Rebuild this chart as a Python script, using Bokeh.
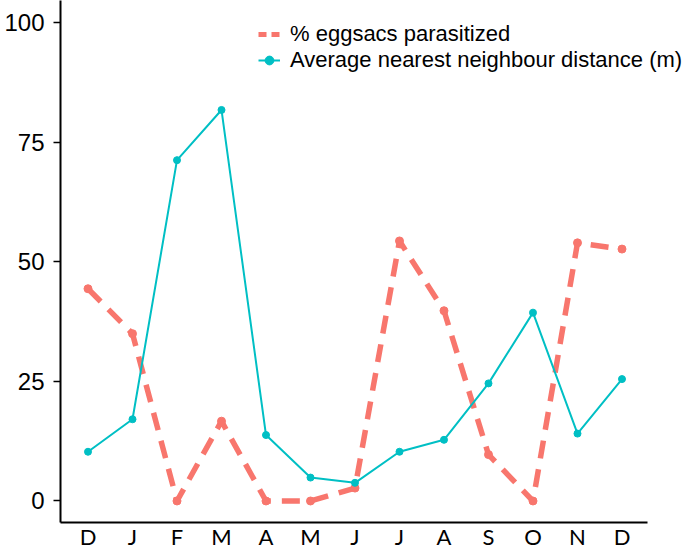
from bokeh.plotting import figure
from bokeh.models import FixedTicker, Legend, LegendItem, ColumnDataSource, Range1d
from bokeh.embed import file_html
from bokeh.resources import INLINE

# ---- data ----
months = ["D", "J", "F", "M", "A", "M", "J", "J", "A", "S", "O", "N", "D"]
parasitized = [44.4, 35.0, 0.0, 16.7, 0.0, 0.0, 2.7, 54.4, 39.8, 9.7, 0.0, 54.0, 52.7]
distance = [10.3, 17.1, 71.3, 81.8, 13.8, 4.9, 3.8, 10.3, 12.8, 24.6, 39.4, 14.1, 25.5]
y_ticks = [0, 25, 50, 75, 100]
legend_labels = ["% eggsacs parasitized", "Average nearest neighbour distance (m)"]

RED = "#F8766D"
CYAN = "#00BFC4"

xpos = list(range(len(months)))
src = ColumnDataSource(dict(x=xpos, par=parasitized, dist=distance))

X_START, X_AXIS_END = -0.618, 12.573

p = figure(width=685, height=552, output_backend="svg", toolbar_location=None,
           x_range=Range1d(X_START, 13.427), y_range=Range1d(-4.5, 104.7),
           min_border_left=60, min_border_right=0, min_border_top=0,
           min_border_bottom=28)
p.outline_line_color = None
p.grid.visible = False
p.background_fill_color = "white"
p.border_fill_color = "white"

# lines
r_red_line = p.line("x", "par", source=src, line_color=RED, line_width=5.5,
                    line_dash="18 11")
r_cyan_line = p.line("x", "dist", source=src, line_color=CYAN, line_width=2)
r_red_pts = p.scatter("x", "par", source=src, size=8, fill_color=RED, line_color=RED)
r_cyan_pts = p.scatter("x", "dist", source=src, size=7, fill_color=CYAN, line_color=CYAN)

# legend key for the dashed series (short dashes, like the reference key)
r_red_key = p.line(x=[float("nan")], y=[float("nan")], line_color=RED,
                   line_width=5, line_dash="8 5")

legend = Legend(items=[
    LegendItem(label=legend_labels[0], renderers=[r_red_key]),
    LegendItem(label=legend_labels[1], renderers=[r_cyan_line, r_cyan_pts]),
], location=(198, 449))
legend.padding = 0
legend.margin = 0
legend.spacing = 0
legend.glyph_width = 22
legend.glyph_height = 26
legend.label_standoff = 10
legend.label_text_font = "Liberation Sans"
legend.label_text_font_size = "22px"
legend.label_text_color = "black"
legend.border_line_color = None
legend.background_fill_alpha = 0
p.add_layout(legend, "center")

# axes
for ax in (p.xaxis[0], p.yaxis[0]):
    ax.axis_line_color = "black"
    ax.axis_line_width = 2
    ax.minor_tick_line_color = None
    ax.major_label_text_color = "black"

p.xaxis.bounds = (X_START, X_AXIS_END)
p.xaxis.ticker = FixedTicker(ticks=xpos)
p.xaxis.major_label_overrides = {i: m for i, m in enumerate(months)}
p.xaxis.major_tick_out = 0
p.xaxis.major_tick_in = 0
p.xaxis.major_label_standoff = 0
p.xaxis.major_label_text_font = "Lato"
p.xaxis.major_label_text_font_size = "22px"

p.yaxis.ticker = FixedTicker(ticks=y_ticks)
p.yaxis.major_tick_out = 7
p.yaxis.major_tick_in = 0
p.yaxis.major_tick_line_width = 1.5
p.yaxis.major_tick_line_color = "black"
p.yaxis.major_label_standoff = 9
p.yaxis.major_label_text_font = "Liberation Sans"
p.yaxis.major_label_text_font_size = "24px"

open("out.html", "w").write(file_html(p, INLINE))
